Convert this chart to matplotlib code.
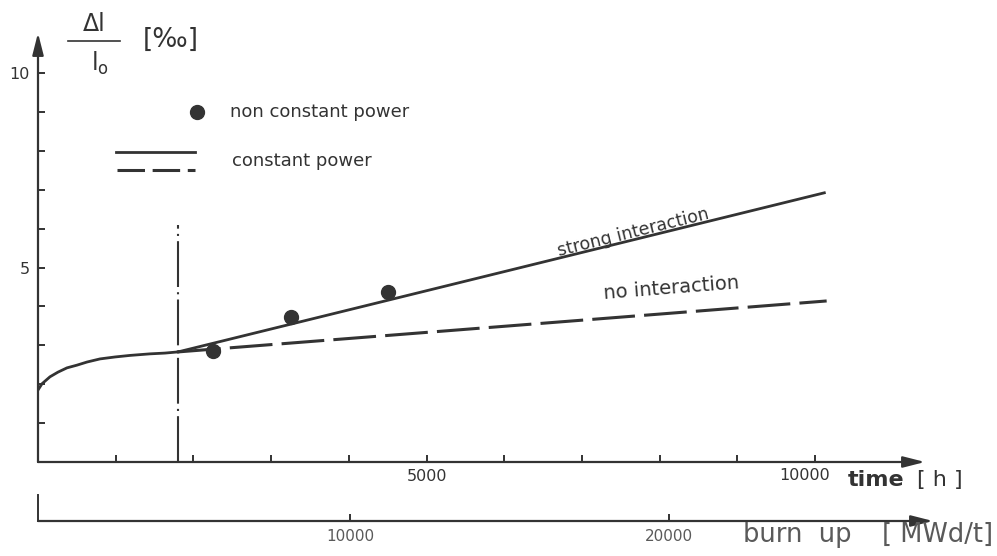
import matplotlib
matplotlib.use("Agg")
from matplotlib import pyplot as plt
from matplotlib.lines import Line2D
from matplotlib.transforms import blended_transform_factory

# values
curve_t = [0, 51, 154, 257, 373, 502, 631, 798, 991, 1184, 1441, 1634, 1802]
curve_v = [1.85, 2.01, 2.19, 2.31, 2.42, 2.49, 2.57, 2.65, 2.70, 2.74, 2.78, 2.80, 2.83]
strong_t = [1802, 10120]
strong_v = [2.83, 6.92]
noint_t = [1802, 10150]
noint_v = [2.83, 4.14]
pts_t = [2252, 3256, 4505]
pts_v = [2.85, 3.73, 4.37]
start_t = 1802
start_top = 6.09
time_ticks = [1000, 2000, 3000, 4000, 5000, 6000, 7000, 8000, 9000, 10000]
time_labels = ['', '', '', '', '5000', '', '', '', '', '']
y_ticks = [1, 2, 3, 4, 5, 6, 7, 8, 9, 10]
y_labels = ['', '', '', '', '5', '', '', '', '', '10']
burn_ticks = [10000, 20000]
burn_labels = ['10000', '20000']

W, H = 997, 556
c = '#333333'
grey = '#5a5a5a'
plt.rcParams['font.family'] = ['DejaVu Sans']


def fx(x):
    return x / W


def fy(y):
    return 1 - y / H


fig = plt.figure(figsize=(W / 100, H / 100), dpi=100)

# main axes: 77.7 px per 1000 h, 38.9 px per unit
ax = fig.add_axes([fx(38), fy(462), (925 - 38) / W, (462 - 33) / H])
ax.set_xlim(0, (925 - 38) / 0.0777)
ax.set_ylim(0, (462 - 33) / 38.9)
for s in ax.spines.values():
    s.set_visible(False)
arr = dict(arrowstyle='-|>,head_length=1.1,head_width=0.28', lw=1.6, color=c,
           shrinkA=0, shrinkB=0, mutation_scale=12)
ax.annotate('', xy=(1, 0), xytext=(0, 0), xycoords='axes fraction', arrowprops=arr)
ax.annotate('', xy=(0, 1), xytext=(0, 0), xycoords='axes fraction', arrowprops=arr)

ax.set_xticks(time_ticks)
ax.set_xticklabels(time_labels)
ax.set_yticks(y_ticks)
ax.set_yticklabels(y_labels)
ax.tick_params(axis='both', direction='in', length=5, width=1.4, color=c,
               labelcolor=c, labelsize=11.5)
ax.tick_params(axis='x', pad=5)
ax.tick_params(axis='y', pad=6)
# the 10000 label sits a little left of its tick in the original
tr = blended_transform_factory(ax.transData, fig.transFigure)
ax.text(time_ticks[-1] - 130, fy(476), '10000', transform=tr, ha='center',
        va='center', fontsize=11.5, color=c)

ax.plot(curve_t, curve_v, color=c, lw=2)
ax.plot(strong_t, strong_v, color=c, lw=2)
ax.plot(noint_t, noint_v, color=c, lw=2.2, dashes=(14, 3))
ax.plot(pts_t, pts_v, 'o', color=c, ms=10)
ax.plot([start_t, start_t], [0, start_top], color=c, lw=1.5, dashes=(22, 2.5, 1, 2.5))

ax.text(7658, 5.89, 'strong interaction', rotation=14, rotation_mode='anchor',
        ha='center', va='center', fontsize=12.5, color=c)
ax.text(8147, 4.47, 'no interaction', rotation=4.5, rotation_mode='anchor',
        ha='center', va='center', fontsize=14, color=c)

# burn-up axis: 31.9 px per 1000 MWd/t, zero at x=31 px
ax2 = fig.add_axes([fx(38), fy(521), (933 - 38) / W, 26 / H])
ax2.set_xlim((38 - 31) / 0.0319, (933 - 31) / 0.0319)
ax2.set_ylim(0, 1)
for k in ['top', 'right', 'bottom']:
    ax2.spines[k].set_visible(False)
ax2.spines['left'].set_linewidth(1.4)
ax2.spines['left'].set_color(c)
ax2.set_yticks([])
ax2.set_xticks(burn_ticks)
ax2.set_xticklabels(burn_labels)
ax2.tick_params(axis='x', direction='in', length=5, width=1.4, color=c,
                labelcolor=grey, labelsize=11, pad=6)
ax2.patch.set_alpha(0)
ax2.annotate('', xy=(1, 0), xytext=(0, 0), xycoords='axes fraction', arrowprops=arr)

# axis titles
fig.text(fx(848), fy(480), 'time', fontsize=16, fontweight='bold', color=c,
         ha='left', va='center')
fig.text(fx(963), fy(480), '[ h ]', fontsize=16, color=c, ha='right', va='center')
fig.text(fx(743), fy(535), 'burn  up', fontsize=18.5, color=grey,
         ha='left', va='center')
fig.text(fx(993), fy(535), '[ MWd/t]', fontsize=18.5, color=grey,
         ha='right', va='center')

fig.text(fx(94), fy(24), '\u0394l', fontsize=17, color=c, ha='center', va='center')
fig.add_artist(Line2D([fx(68), fx(120)], [fy(41), fy(41)], color=c, lw=1.2))
fig.text(fx(100), fy(63), 'l$_\\mathregular{o}$', fontsize=17, color=c,
         ha='center', va='center')
fig.text(fx(143), fy(40), '[\u2030]', fontsize=19, color=c, ha='left', va='center')

# legend
fig.add_artist(Line2D([fx(197)], [fy(112)], marker='o', ms=10, color=c, lw=0))
fig.text(fx(230), fy(112), 'non constant power', fontsize=13, color=c,
         ha='left', va='center')
fig.add_artist(Line2D([fx(116), fx(195)], [fy(152), fy(152)], color=c, lw=2))
fig.add_artist(Line2D([fx(117), fx(195)], [fy(170), fy(170)], color=c, lw=2.2,
                      dashes=(9, 2.5)))
fig.text(fx(232), fy(161), 'constant power', fontsize=13, color=c,
         ha='left', va='center')

fig.savefig('out.png', dpi=100)
